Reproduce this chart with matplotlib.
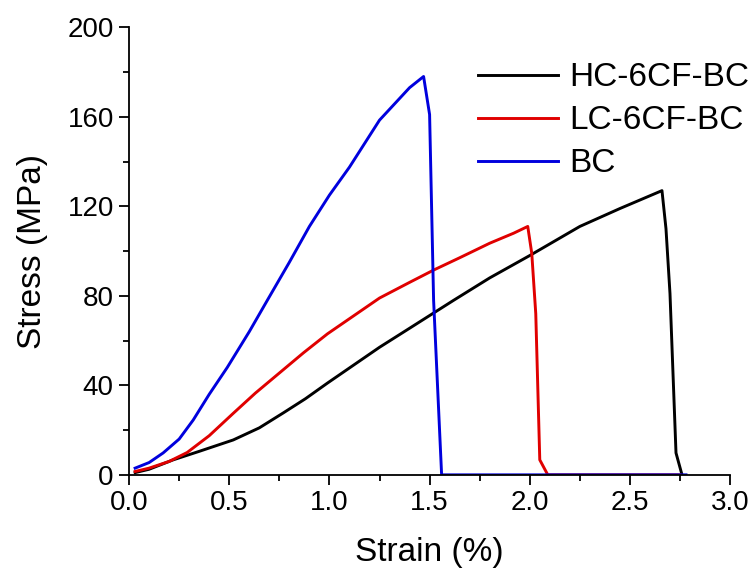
import matplotlib
matplotlib.use('Agg')
import matplotlib.pyplot as plt
from matplotlib.ticker import MultipleLocator

plt.rcParams['font.family'] = ['Liberation Sans', 'DejaVu Sans']

# strain (%) / stress (MPa)
hc_strain = [0.03, 0.10, 0.22, 0.35, 0.52, 0.65, 0.77, 0.88, 0.99, 1.12, 1.25,
             1.40, 1.62, 1.80, 2.00, 2.25, 2.45, 2.66, 2.68, 2.70, 2.73, 2.76]
hc_stress = [1, 2.5, 6.7, 10.5, 15.6, 21, 27.7, 34, 41, 49, 57,
             65.5, 78, 88, 98, 111, 119, 127, 110, 81, 9.8, 0]

lc_strain = [0.03, 0.10, 0.20, 0.29, 0.40, 0.52, 0.63, 0.75, 0.87, 0.99, 1.12,
             1.25, 1.40, 1.52, 1.65, 1.80, 1.92, 1.99, 2.01, 2.03, 2.05, 2.09, 2.75]
lc_stress = [1.5, 3, 6, 10, 17.5, 27.5, 36.5, 45.5, 54.5, 63, 71,
             79, 86, 91.5, 97, 103.5, 108, 111, 99, 72, 6.7, 0, 0]

bc_strain = [0.03, 0.10, 0.17, 0.25, 0.32, 0.40, 0.49, 0.60, 0.69, 0.80, 0.90,
             1.00, 1.10, 1.25, 1.40, 1.47, 1.50, 1.52, 1.56, 2.78]
bc_stress = [3, 5.5, 9.8, 16, 24.5, 36, 48, 64, 78, 95, 111,
             125, 137.5, 158.5, 173, 178, 161, 78, 0, 0]

fig = plt.figure(figsize=(7.55, 5.68), dpi=100)
ax = fig.add_axes([0.171, 0.164, 0.796, 0.788])

ax.plot(hc_strain, hc_stress, color='black', lw=2.1, label='HC-6CF-BC')
ax.plot(lc_strain, lc_stress, color='#e00000', lw=2.1, label='LC-6CF-BC')
ax.plot(bc_strain, bc_stress, color='#0000dd', lw=2.1, label='BC')

ax.set_xlim(0, 3.0)
ax.set_ylim(0, 200)
ax.xaxis.set_major_locator(MultipleLocator(0.5))
ax.xaxis.set_minor_locator(MultipleLocator(0.25))
ax.yaxis.set_major_locator(MultipleLocator(40))
ax.yaxis.set_minor_locator(MultipleLocator(20))
ax.xaxis.set_major_formatter(plt.FuncFormatter(lambda v, p: f'{v:.1f}'))

for s in ['top', 'right']:
    ax.spines[s].set_visible(False)
for s in ['left', 'bottom']:
    ax.spines[s].set_linewidth(1.3)
ax.tick_params(which='major', direction='out', length=7, width=1.3, labelsize=20, pad=4)
ax.tick_params(which='minor', direction='out', length=4, width=1.3)

ax.set_xlabel('Strain (%)', fontsize=24, labelpad=15)
ax.set_ylabel('Stress (MPa)', fontsize=24, labelpad=14)

ax.legend(loc='upper left', bbox_to_anchor=(0.633, 0.89), bbox_transform=fig.transFigure,
          frameon=False, fontsize=24, handlelength=2.4, handletextpad=0.35,
          labelspacing=0.36, borderpad=0, borderaxespad=0)

fig.savefig('out.png', dpi=100)
